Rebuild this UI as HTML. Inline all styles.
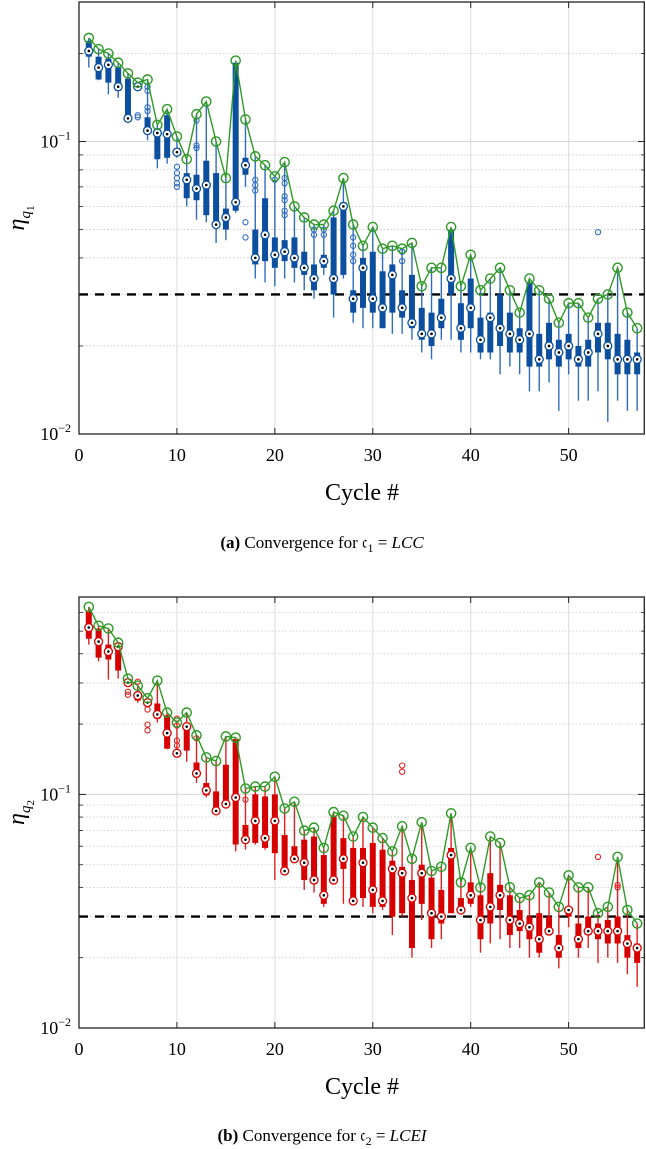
<!DOCTYPE html>
<html><head><meta charset="utf-8"><style>
body{margin:0;background:#fff}
svg{display:block;font-family:"Liberation Serif","DejaVu Serif",serif}
</style></head><body>
<svg id="fig" width="646" height="1149" viewBox="0 0 646 1149" xmlns="http://www.w3.org/2000/svg"></svg>
<script>
const cycles=[];for(let i=1;i<=57;i++)cycles.push(i);
const xTicks=[0,10,20,30,40,50];
const threshold=0.03;
// Panel (a)
const aMax=[.226,.207,.200,.186,.171,.159,.163,.114,.129,.104,.087,.124,.137,.100,.075,.189,.119,.089,.083,.076,.085,.060,.055,.052,.052,.058,.075,.052,.044,.051,.043,.044,.043,.045,.032,.037,.037,.051,.032,.041,.031,.034,.037,.031,.026,.034,.031,.029,.024,.028,.028,.025,.029,.030,.037,.026,.023];
const aMed=[.204,.179,.183,.154,.120,.154,.109,.107,.106,.092,.074,.069,.071,.052,.055,.062,.083,.040,.048,.041,.042,.040,.037,.034,.039,.034,.060,.029,.037,.029,.027,.035,.027,.024,.022,.022,.025,.034,.023,.027,.021,.025,.023,.022,.021,.022,.018,.020,.019,.020,.018,.019,.022,.020,.018,.018,.018];
const aQ3=[.221,.195,.192,.179,.164,.158,.121,.111,.123,.095,.078,.077,.086,.078,.059,.186,.088,.050,.064,.047,.046,.047,.042,.038,.041,.055,.062,.031,.040,.042,.036,.038,.031,.035,.027,.026,.029,.050,.028,.034,.025,.026,.030,.026,.023,.033,.022,.024,.021,.022,.020,.021,.024,.024,.022,.021,.019];
const aQ1=[.195,.163,.159,.149,.118,.152,.106,.087,.088,.090,.064,.063,.056,.052,.050,.058,.077,.038,.039,.037,.039,.037,.035,.031,.037,.030,.035,.026,.027,.026,.023,.026,.025,.023,.021,.020,.023,.030,.021,.023,.019,.019,.020,.019,.019,.017,.017,.018,.017,.018,.017,.017,.019,.018,.016,.016,.016];
const aLo=[.179,.162,.145,.141,.116,.149,.101,.081,.084,.088,.060,.054,.053,.045,.046,.057,.070,.034,.033,.032,.034,.033,.031,.029,.035,.025,.034,.024,.023,.023,.023,.022,.022,.021,.019,.018,.021,.021,.019,.019,.018,.018,.016,.017,.016,.014,.014,.015,.012,.016,.013,.013,.014,.011,.013,.012,.012];
const aOutCycle=[6,6,7,7,7,7,10,10,10,10,10,12,12,12,17,17,18,18,18,20,21,21,21,21,21,21,24,24,25,25,28,28,28,28,33,33,33,53];
const aOutVal=[.123,.121,.154,.149,.131,.127,.082,.078,.075,.072,.070,.118,.097,.095,.053,.047,.074,.071,.068,.074,.075,.072,.065,.063,.058,.056,.050,.048,.050,.048,.047,.044,.041,.039,.042,.042,.039,.049];
// Panel (b)
const bMax=[.635,.527,.513,.446,.313,.292,.258,.307,.224,.203,.224,.179,.144,.139,.177,.175,.106,.108,.108,.119,.087,.093,.070,.072,.059,.084,.081,.066,.080,.072,.065,.057,.073,.053,.076,.047,.049,.083,.042,.059,.040,.066,.062,.040,.036,.037,.042,.038,.033,.045,.040,.040,.031,.033,.054,.032,.028];
const bMed=[.518,.451,.409,.429,.301,.265,.247,.220,.183,.150,.195,.123,.104,.085,.091,.097,.064,.077,.065,.077,.047,.053,.051,.043,.037,.043,.053,.035,.051,.039,.035,.048,.046,.036,.046,.031,.030,.055,.032,.037,.029,.033,.037,.029,.028,.027,.024,.026,.022,.032,.024,.026,.026,.026,.026,.023,.022];
const bQ3=[.612,.513,.438,.433,.307,.270,.252,.245,.218,.153,.203,.137,.112,.103,.134,.173,.074,.100,.098,.100,.067,.060,.064,.066,.055,.081,.065,.059,.059,.062,.058,.052,.049,.043,.050,.044,.039,.059,.036,.042,.037,.046,.041,.037,.032,.030,.031,.030,.025,.033,.028,.030,.028,.029,.030,.025,.023];
const bQ1=[.464,.385,.378,.339,.295,.252,.240,.211,.157,.147,.154,.126,.099,.087,.090,.061,.062,.062,.059,.056,.047,.052,.043,.042,.034,.044,.048,.036,.036,.033,.033,.030,.031,.022,.034,.024,.028,.031,.031,.034,.024,.028,.032,.025,.026,.024,.021,.025,.020,.030,.022,.025,.024,.023,.023,.020,.019];
const bLo=[.438,.371,.310,.313,.292,.247,.237,.203,.156,.145,.138,.112,.097,.083,.087,.057,.058,.061,.058,.043,.046,.051,.039,.038,.033,.041,.034,.034,.033,.031,.032,.025,.030,.020,.029,.022,.024,.031,.031,.033,.021,.023,.024,.022,.022,.020,.020,.025,.018,.027,.020,.022,.019,.020,.019,.017,.015];
const bOutCycle=[5,5,6,7,7,7,10,10,10,10,12,17,33,33,53,55,55];
const bOutVal=[.275,.267,.304,.231,.199,.188,.211,.197,.170,.162,.174,.095,.133,.125,.054,.041,.040];

const NS="http://www.w3.org/2000/svg";
const svg=document.getElementById('fig');
function mk(tag,attrs,parent){const e=document.createElementNS(NS,tag);for(const k in attrs)e.setAttribute(k,attrs[k]);(parent||svg).appendChild(e);return e;}

function panel(p){
  const L=79,R=645,T=p.top,B=p.bottom;
  const xs=v=>L+(v-0)/(57.8-0)*(R-L);
  const lmin=Math.log10(p.ymin),lmax=Math.log10(p.ymax);
  const ys=v=>B-(Math.log10(v)-lmin)/(lmax-lmin)*(B-T);
  const g=mk('g',{});
  
  
  // minor grid
  const minors=[];
  for(let d=-2;d<0;d++)for(let m=2;m<=9;m++){const v=m*Math.pow(10,d);if(v<p.ymax)minors.push(v);}
  minors.forEach(v=>{const l=mk('line',{x1:L,x2:R,y1:ys(v),y2:ys(v),stroke:'#c8c8c8','stroke-width':0.8,'stroke-dasharray':'1.5,2'},g);
    
    mk('line',{x1:L,x2:L+4,y1:ys(v),y2:ys(v),stroke:'#222','stroke-width':0.8},g);
    mk('line',{x1:R,x2:R-4,y1:ys(v),y2:ys(v),stroke:'#222','stroke-width':0.8},g);});
  const hl=mk('line',{x1:L,x2:R,y1:ys(0.1),y2:ys(0.1),stroke:'#d8d8d8','stroke-width':1},g);
  
  [0.01,0.1].forEach(v=>{mk('line',{x1:L,x2:L+7,y1:ys(v),y2:ys(v),stroke:'#222','stroke-width':1},g);
    mk('line',{x1:R,x2:R-7,y1:ys(v),y2:ys(v),stroke:'#222','stroke-width':1},g);
    const t=mk('text',{x:L-8,y:ys(v)+6,'text-anchor':'end','font-size':18},g);
    
    t.textContent='10';const s=mk('tspan',{dy:-8,'font-size':12},t);s.textContent=v===0.1?'−1':'−2';});
  xTicks.forEach(v=>{
    if(v>0){const l=mk('line',{x1:xs(v),x2:xs(v),y1:T,y2:B,stroke:'#dcdcdc','stroke-width':1},g);
      }
    mk('line',{x1:xs(v),x2:xs(v),y1:B,y2:B-6,stroke:'#222','stroke-width':1},g);
    mk('line',{x1:xs(v),x2:xs(v),y1:T,y2:T+6,stroke:'#222','stroke-width':1},g);
    const t=mk('text',{x:xs(v),y:B+27,'text-anchor':'middle','font-size':18},g);
    
    t.textContent=v;});
  // threshold
  const th=mk('line',{x1:L,x2:R,y1:ys(threshold),y2:ys(threshold),stroke:'#000','stroke-width':2.4,'stroke-dasharray':'9,7'},g);
  
  // boxes
  cycles.forEach((c,i)=>{
    const x=xs(c);
    const w=mk('line',{x1:x,x2:x,y1:ys(p.max[i]),y2:ys(p.lo[i]),stroke:p.light,'stroke-width':1.4},g);
    
    const y3=ys(p.q3[i]),y1=ys(p.q1[i]);
    const b=mk('rect',{x:x-3,y:y3,width:6,height:Math.max(1.5,y1-y3),fill:p.color},g);
    
  });
  p.outC.forEach((c,i)=>{
    const o=mk('circle',{cx:xs(c),cy:ys(p.outV[i]),r:2.6,fill:'none',stroke:p.light,'stroke-width':1.1},g);
    
  });
  cycles.forEach((c,i)=>{
    const m=mk('circle',{cx:xs(c),cy:ys(p.med[i]),r:4,fill:'#fff',stroke:p.color,'stroke-width':1.3},g);
    
    mk('circle',{cx:xs(c),cy:ys(p.med[i]),r:1.3,fill:'#000'},g);
  });
  // max line
  const pts=cycles.map((c,i)=>xs(c).toFixed(1)+','+ys(p.max[i]).toFixed(1)).join(' ');
  const pl=mk('polyline',{points:pts,fill:'none',stroke:'#2f9a27','stroke-width':1.4},g);
  
  cycles.forEach((c,i)=>{
    const m=mk('circle',{cx:xs(c),cy:ys(p.max[i]),r:4.6,fill:'none',stroke:'#2f9a27','stroke-width':1.4},g);
    
  });
  const fr=mk('rect',{x:L,y:T,width:R-L-0.7,height:B-T,fill:'none',stroke:'#222','stroke-width':1.3},g);
  
  // labels
  const xl=mk('text',{x:362,y:B+66,'text-anchor':'middle','font-size':24},g);
  
  xl.textContent='Cycle #';
  const cy=(T+B)/2;
  const yl=mk('text',{x:0,y:0,'font-size':24,'font-style':'italic',transform:`translate(24,${cy}) rotate(-90)`,'text-anchor':'middle'},g);
  
  yl.textContent='η';
  const s1=mk('tspan',{dy:6,'font-size':15},yl);s1.textContent='q';
  const s2=mk('tspan',{dy:4,'font-size':11,'font-style':'normal'},yl);s2.textContent=p.sub;
  const cap=mk('text',{x:322,y:p.capY,'text-anchor':'middle','font-size':17},g);
  
  const c1=mk('tspan',{'font-weight':'bold'},cap);c1.textContent='('+p.letter+')';
  const c2=mk('tspan',{},cap);c2.textContent=' Convergence for  𝔠';
  const c3=mk('tspan',{dy:4,'font-size':12},cap);c3.textContent=p.sub;
  const c4=mk('tspan',{dy:-4},cap);c4.textContent=' = ';
  const c5=mk('tspan',{'font-style':'italic'},cap);c5.textContent=p.capText;
}
panel({name:'panel-a',top:2,bottom:434,ymin:0.01,ymax:0.3,max:aMax,med:aMed,q3:aQ3,q1:aQ1,lo:aLo,outC:aOutCycle,outV:aOutVal,color:'#0b4f9e',light:'#2f6cc0',sub:'1',letter:'a',capText:'LCC',capY:548});
panel({name:'panel-b',top:597,bottom:1028,ymin:0.01,ymax:0.7,max:bMax,med:bMed,q3:bQ3,q1:bQ1,lo:bLo,outC:bOutCycle,outV:bOutVal,color:'#d60000',light:'#e02020',sub:'2',letter:'b',capText:'LCEI',capY:1141});
</script>
</body></html>
